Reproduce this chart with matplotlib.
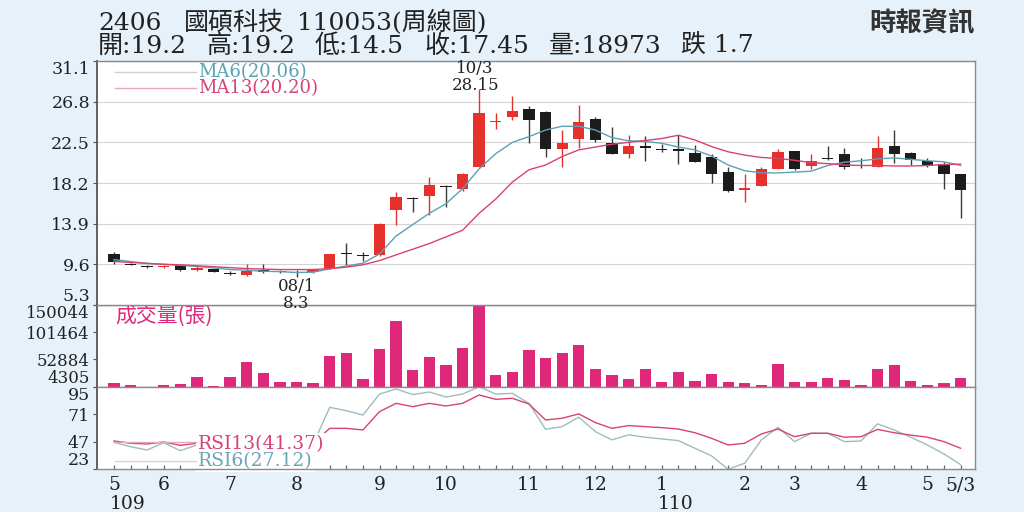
import numpy as np
import matplotlib
matplotlib.use("Agg")
import matplotlib.pyplot as plt
from matplotlib.lines import Line2D

plt.rcParams['font.family'] = ['DejaVu Serif', 'Noto Sans CJK TC']

# ---------------- data ----------------
open_ = [10.7, 9.6, 9.45, 9.3, 9.5, 9.05, 9.1, 8.7, 8.5, 9.05, 8.8, 8.75, 8.75,
         9.15, 10.75, 10.55, 10.55, 15.3, 16.6, 16.8, 17.85, 17.6, 19.9, 24.6, 25.15,
         26.0, 25.75, 21.8, 22.8, 24.95, 22.4, 21.25, 22.1, 21.8, 21.75, 21.4, 20.9,
         19.4, 17.45, 17.9, 19.65, 21.55, 20.0, 20.8, 21.25, 20.0, 19.85, 22.1, 21.4,
         20.55, 20.2, 19.2]
high = [10.9, 9.7, 9.5, 9.5, 9.55, 9.55, 9.15, 8.85, 9.6, 9.6, 8.95, 8.95, 9.0,
        10.7, 11.85, 10.9, 13.95, 17.25, 16.7, 18.85, 17.95, 19.25, 28.15, 25.55, 27.4,
        26.35, 25.8, 23.8, 26.45, 25.2, 24.15, 23.25, 23.15, 22.3, 23.3, 22.2, 21.3,
        19.9, 19.2, 19.9, 21.8, 21.6, 21.25, 22.1, 21.9, 20.8, 23.15, 23.8, 21.45,
        20.8, 20.45, 19.2]
low = [9.6, 9.5, 9.25, 9.25, 8.86, 8.85, 8.75, 8.5, 8.4, 8.7, 8.65, 8.3, 8.7,
       9.1, 9.5, 10.0, 10.5, 13.75, 15.15, 14.8, 15.7, 17.4, 19.9, 23.9, 24.9,
       22.4, 20.9, 19.85, 21.95, 22.55, 21.3, 20.8, 20.55, 21.5, 20.25, 20.45, 18.2,
       17.25, 16.2, 17.85, 19.65, 19.6, 19.65, 20.6, 19.7, 19.8, 19.85, 20.3, 20.1,
       19.9, 17.6, 14.5]
close = [9.8, 9.55, 9.3, 9.45, 8.95, 9.25, 8.8, 8.55, 8.9, 8.75, 8.75, 8.7, 8.95,
         10.65, 10.7, 10.5, 13.9, 16.75, 16.5, 17.95, 17.75, 19.2, 25.55, 24.75, 25.8,
         24.9, 21.8, 22.45, 24.6, 22.75, 21.3, 22.1, 21.85, 21.7, 21.6, 20.45, 19.2,
         17.35, 17.7, 19.65, 21.45, 19.65, 20.55, 20.75, 19.85, 19.95, 21.85, 21.25, 20.6,
         20.0, 19.15, 17.45]
ma6 = [10.1, 9.9, 9.7, 9.6, 9.5, 9.38, 9.22, 9.05, 8.98, 8.87, 8.83, 8.74, 8.77,
       9.12, 9.42, 9.72, 10.7, 12.6, 13.8, 15.0, 16.0, 17.6, 19.7, 21.3, 22.5,
       23.1, 23.8, 24.2, 24.2, 23.8, 23.0, 22.66, 22.6, 22.4, 22.0,
       21.7, 21.05, 20.1, 19.5, 19.27, 19.27, 19.35, 19.45, 20.05, 20.4, 20.55, 20.75,
       20.85, 20.7, 20.55, 20.44, 20.06]
ma13 = [9.9, 9.8, 9.7, 9.6, 9.55, 9.45, 9.35, 9.25, 9.15, 9.1, 9.05, 9.05, 9.05,
        9.15, 9.3, 9.55, 10.0, 10.6, 11.2, 11.8, 12.5, 13.2,
        15.0, 16.5, 18.3, 19.6, 20.1, 21.0, 21.7, 22.0, 22.3, 22.5, 22.7, 22.9, 23.25,
        22.75, 22.05, 21.5, 21.15, 20.9, 20.8, 20.6, 20.35, 20.25, 20.1, 20.05, 20.05,
        20.0, 20.0, 20.05, 20.15, 20.2]
volume = [11350, 7830, 4305, 6600, 8360, 21400, 6070, 21900, 47800, 29000, 11900, 13100, 10100,
          58400, 64200, 18900, 70700, 121100, 33700, 57700, 42500, 72500, 150044, 26000, 29900,
          69500, 55400, 64700, 78800, 36500, 24900, 17900, 36500, 12600, 30200, 14900, 27200,
          12600, 11350, 7300, 44300, 11900, 11900, 20700, 15400, 7830, 35500, 42500, 14900,
          7830, 11350, 18973]
rsi6 = [46.5, 42.7, 39.8, 46.2, 39.2, 44.2, 38, 34, 42, 38, 38, 36, 45,
        77.0, 74.1, 70.3, 88.6, 93.0, 88.1, 90.4, 86.0, 88.6, 95.0, 88.6, 89.2,
        80.5, 57.9, 60.2, 68.4, 55.9, 48.6, 53.0, 51.0, 49.5, 48.0, 41.3, 34.7,
        23.0, 28.3, 48.6, 59.6, 47.1, 54.4, 54.4, 47.1, 47.7, 62.6, 57.3, 51.0,
        44.2, 36.4, 27.12]
rsi13 = [47.7, 45.7, 45.1, 46.8, 43.9, 45.7, 43, 41, 44, 42, 42, 41, 46,
         58.7, 58.7, 57.3, 73.3, 80.5, 77.6, 80.5, 78.2, 80.5, 87.8, 84.0, 84.9,
         79.9, 66.0, 67.5, 71.3, 63.7, 58.7, 61.1, 60.2, 59.3, 58.1, 54.9, 50.0,
         44.2, 45.7, 53.8, 58.1, 51.4, 54.4, 54.4, 51.0, 51.4, 57.8, 54.9, 52.8,
         51.0, 47.1, 41.37]

price_ticks = [5.3, 9.6, 13.9, 18.2, 22.5, 26.8, 31.1]
vol_ticks = [4305, 52884, 101464, 150044]
rsi_ticks = [23, 47, 71, 95]
month_pos = [0, 3, 7, 11, 16, 20, 25, 29, 33, 38, 41, 45, 49, 51]
month_labels = ['5', '6', '7', '8', '9', '10', '11', '12', '1', '2', '3', '4', '5', '5/3']
year_pos = [0, 33]
year_labels = ['109', '110']
hi_idx, hi_label = 22, '10/3'
lo_idx, lo_label = 11, '08/1'

title_parts = [('2406', 98), ('國碩科技', 184), ('110053(周線圖)', 297)]
info_parts = [('開:19.2', 98), ('高:19.2', 206), ('低:14.5', 315), ('收:17.45', 424),
              ('量:18973', 549), ('跌 1.7', 681)]
source = '時報資訊'

# ---------------- style ----------------
W, H = 1024, 512
BG = '#e6f1f9'
RED = '#e5302b'
BLACK = '#1c1c1c'
MA6_C = '#5aa2b4'
MA13_C = '#d8436f'
VOL_C = '#e0287a'
RSI13_C = '#d8436f'
RSI6_C = '#9fbcc2'
TXT = '#222222'

def fx(px):
    return px / W

def fy(py):
    return 1 - py / H

fig = plt.figure(figsize=(W / 100, H / 100), dpi=100, facecolor=BG)

L, R = 97, 975
ax_v = fig.add_axes([fx(L), fy(386.7), fx(R - L), (386.7 - 305) / H])
ax_r = fig.add_axes([fx(L), fy(469.3), fx(R - L), (469.3 - 386.7) / H])
ax_p = fig.add_axes([fx(L), fy(305), fx(R - L), (305 - 61) / H])
ax_p.set_zorder(3)

x = np.arange(len(close))
o = np.array(open_); c = np.array(close); h = np.array(high); lo = np.array(low)
xlim = (-1.02, 51.87)

for ax in (ax_p, ax_v, ax_r):
    ax.set_facecolor('white')
    ax.set_xlim(*xlim)
    for s in ax.spines.values():
        s.set_color('#8a8a8a')
        s.set_linewidth(1.0)
    ax.spines['left'].set_color('#555555')
    ax.spines['left'].set_linewidth(1.3)
    ax.tick_params(axis='y', length=3, width=0.8, color='#555555', pad=2,
                   labelcolor=TXT)

# ---- price panel ----
up = c > o
body_col = [RED if u else BLACK for u in up]
wick_col = [RED if u else '#3a3a3a' for u in up]
ax_p.vlines(x, lo, h, colors=wick_col, linewidth=1.0, zorder=3)
ax_p.bar(x, np.maximum(np.abs(c - o), 0.13), bottom=np.minimum(o, c), width=0.68,
         color=body_col, linewidth=0, zorder=4)
ax_p.plot(x, ma6, color=MA6_C, lw=1.0, zorder=5)
ax_p.plot(x, ma13, color=MA13_C, lw=1.0, zorder=5)
ax_p.set_ylim(price_ticks[0], price_ticks[-1])
ax_p.set_yticks(price_ticks, [f'{v:.1f}' for v in price_ticks], fontsize=12.5)
ax_p.grid(axis='y', color='#d4d4d4', lw=0.8, zorder=0)
ax_p.set_axisbelow(True)
ax_p.set_xticks([])

ax_p.annotate(f'{hi_label}\n{high[hi_idx]:.2f}', xy=(hi_idx, high[hi_idx]),
              xytext=(-4, -5), textcoords='offset pixels', ha='center', va='bottom',
              fontsize=12, color=TXT, linespacing=1.0, annotation_clip=False)
ax_p.annotate(f'{lo_label}\n{low[lo_idx]:.1f}', xy=(lo_idx, low[lo_idx]),
              xytext=(0, -1), textcoords='offset pixels', ha='center', va='top',
              fontsize=12, color=TXT, linespacing=1.0, annotation_clip=False,
              zorder=10)

# MA legend
fig.add_artist(Line2D([fx(115), fx(196)], [fy(72), fy(72)], color='#cfcfcf', lw=1.0,
                      zorder=6))
fig.add_artist(Line2D([fx(115), fx(196)], [fy(88), fy(88)], color='#e6a9bb', lw=1.0,
                      zorder=6))
fig.text(fx(198), fy(72), f'MA6({ma6[-1]:.2f})', color=MA6_C, fontsize=13,
         va='center', ha='left', zorder=6)
fig.text(fx(198), fy(88), f'MA13({ma13[-1]:.2f})', color=MA13_C, fontsize=13,
         va='center', ha='left', zorder=6)

# ---- volume panel ----
ax_v.bar(x, volume, width=0.68, color=VOL_C, linewidth=0, zorder=3)
ax_v.set_ylim(vol_ticks[0], vol_ticks[-1])
ax_v.set_yticks(vol_ticks, [str(v) for v in vol_ticks], fontsize=12)
ax_v.set_xticks([])
ax_v.text(fx(115), fy(316), '成交量(張)', transform=fig.transFigure, color=VOL_C,
          fontsize=15, va='center', ha='left', family=['Noto Sans CJK TC', 'DejaVu Serif'])

# ---- RSI panel ----
ax_r.plot(x, rsi6, color=RSI6_C, lw=1.0, zorder=2)
ax_r.plot(x, rsi13, color=RSI13_C, lw=1.0, zorder=2)
ax_r.set_ylim(rsi_ticks[0], rsi_ticks[-1])
ax_r.set_yticks(rsi_ticks, [str(v) for v in rsi_ticks], fontsize=12.5)
ax_r.set_xticks(month_pos, month_labels, fontsize=13.5, color=TXT)
ax_r.set_xticks(x, minor=True)
ax_r.tick_params(axis='x', which='both', direction='in', length=3, width=0.9,
                 color='#666666', pad=5)
for pos, lab in zip(year_pos, year_labels):
    ax_r.text(pos - 0.25, -0.42, lab, transform=ax_r.get_xaxis_transform(),
              fontsize=13.5, color=TXT, ha='left', va='center', clip_on=False)

fig.add_artist(Line2D([fx(115), fx(196)], [fy(442), fy(442)], color='#e6a9bb', lw=1.0,
                      zorder=6))
fig.add_artist(Line2D([fx(115), fx(196)], [fy(461), fy(461)], color='#d6d6d6', lw=1.0,
                      zorder=6))
bb = dict(facecolor='white', edgecolor='none', pad=1.5)
ax_r.text(fx(198), fy(444), f'RSI13({rsi13[-1]:.2f})', transform=fig.transFigure,
          color=RSI13_C, fontsize=13.5, va='center', ha='left', bbox=bb, zorder=2.3)
ax_r.text(fx(198), fy(461), f'RSI6({rsi6[-1]:.2f})', transform=fig.transFigure,
          color='#6aa6b5', fontsize=13.5, va='center', ha='left', bbox=bb, zorder=2.3)

# first/last tick label alignment inside panels
for ax in (ax_p, ax_v, ax_r):
    labs = ax.get_yticklabels()
    labs[0].set_verticalalignment('bottom')
    labs[-1].set_verticalalignment('top')

# ---- header ----
for txt, px in title_parts:
    fig.text(fx(px), fy(23), txt, fontsize=18, color=TXT, va='center', ha='left')
for txt, px in info_parts:
    fig.text(fx(px), fy(46), txt, fontsize=18, color=TXT, va='center', ha='left')
fig.text(fx(975), fy(24), source, fontsize=19, color='#333333', va='center', ha='right',
         family=['Noto Sans CJK TC'], fontweight='bold')

fig.savefig('out.png', dpi=100, facecolor=BG)
